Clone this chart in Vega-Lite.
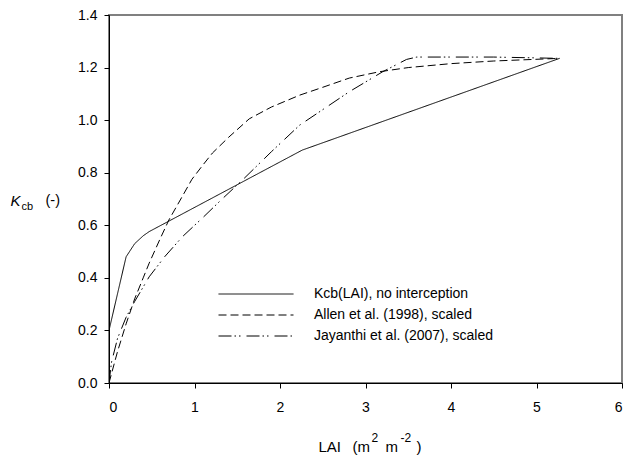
{
  "$schema": "https://vega.github.io/schema/vega-lite/v6.json",
  "width": 513,
  "height": 368,
  "autosize": {"type": "none"},
  "padding": {"left": 109, "top": 15, "right": 4, "bottom": 74},
  "background": "white",
  "config": {
    "view": {"stroke": "#808080", "strokeWidth": 2},
    "font": "Liberation Sans",
    "axis": {
      "domainColor": "black",
      "tickColor": "black",
      "tickSize": 5,
      "labelFont": "Liberation Sans",
      "labelFontSize": 14,
      "labelColor": "black",
      "titleFont": "Liberation Sans",
      "titleFontSize": 14,
      "titleFontWeight": "normal",
      "titleColor": "black",
      "titleAngle": 0,
      "titleAlign": "left",
      "titleBaseline": "alphabetic",
      "grid": false
    }
  },
  "data": {
    "values": [
      {"series": "Kcb(LAI), no interception", "lai": 0.0, "kcb": 0.2},
      {"series": "Kcb(LAI), no interception", "lai": 0.2, "kcb": 0.48},
      {"series": "Kcb(LAI), no interception", "lai": 0.3, "kcb": 0.53},
      {"series": "Kcb(LAI), no interception", "lai": 0.4, "kcb": 0.56},
      {"series": "Kcb(LAI), no interception", "lai": 0.47, "kcb": 0.576},
      {"series": "Kcb(LAI), no interception", "lai": 2.26, "kcb": 0.886},
      {"series": "Kcb(LAI), no interception", "lai": 5.27, "kcb": 1.235},

      {"series": "Allen et al. (1998), scaled", "lai": 0.0, "kcb": 0.0},
      {"series": "Allen et al. (1998), scaled", "lai": 0.1, "kcb": 0.12},
      {"series": "Allen et al. (1998), scaled", "lai": 0.2, "kcb": 0.225},
      {"series": "Allen et al. (1998), scaled", "lai": 0.3, "kcb": 0.32},
      {"series": "Allen et al. (1998), scaled", "lai": 0.4, "kcb": 0.40},
      {"series": "Allen et al. (1998), scaled", "lai": 0.47, "kcb": 0.456},
      {"series": "Allen et al. (1998), scaled", "lai": 0.6, "kcb": 0.55},
      {"series": "Allen et al. (1998), scaled", "lai": 0.7, "kcb": 0.62},
      {"series": "Allen et al. (1998), scaled", "lai": 0.84, "kcb": 0.70},
      {"series": "Allen et al. (1998), scaled", "lai": 0.97, "kcb": 0.775},
      {"series": "Allen et al. (1998), scaled", "lai": 1.1, "kcb": 0.83},
      {"series": "Allen et al. (1998), scaled", "lai": 1.21, "kcb": 0.875},
      {"series": "Allen et al. (1998), scaled", "lai": 1.4, "kcb": 0.935},
      {"series": "Allen et al. (1998), scaled", "lai": 1.64, "kcb": 1.005},
      {"series": "Allen et al. (1998), scaled", "lai": 1.9, "kcb": 1.05},
      {"series": "Allen et al. (1998), scaled", "lai": 2.23, "kcb": 1.095},
      {"series": "Allen et al. (1998), scaled", "lai": 2.5, "kcb": 1.125},
      {"series": "Allen et al. (1998), scaled", "lai": 2.81, "kcb": 1.16},
      {"series": "Allen et al. (1998), scaled", "lai": 3.16, "kcb": 1.184},
      {"series": "Allen et al. (1998), scaled", "lai": 3.5, "kcb": 1.2},
      {"series": "Allen et al. (1998), scaled", "lai": 4.0, "kcb": 1.215},
      {"series": "Allen et al. (1998), scaled", "lai": 4.5, "kcb": 1.225},
      {"series": "Allen et al. (1998), scaled", "lai": 5.27, "kcb": 1.235},

      {"series": "Jayanthi et al. (2007), scaled", "lai": 0.0, "kcb": 0.0},
      {"series": "Jayanthi et al. (2007), scaled", "lai": 0.03, "kcb": 0.08},
      {"series": "Jayanthi et al. (2007), scaled", "lai": 0.1, "kcb": 0.17},
      {"series": "Jayanthi et al. (2007), scaled", "lai": 0.2, "kcb": 0.25},
      {"series": "Jayanthi et al. (2007), scaled", "lai": 0.3, "kcb": 0.31},
      {"series": "Jayanthi et al. (2007), scaled", "lai": 0.47, "kcb": 0.404},
      {"series": "Jayanthi et al. (2007), scaled", "lai": 0.65, "kcb": 0.48},
      {"series": "Jayanthi et al. (2007), scaled", "lai": 0.86, "kcb": 0.557},
      {"series": "Jayanthi et al. (2007), scaled", "lai": 1.1, "kcb": 0.63},
      {"series": "Jayanthi et al. (2007), scaled", "lai": 1.31, "kcb": 0.696},
      {"series": "Jayanthi et al. (2007), scaled", "lai": 1.56, "kcb": 0.772},
      {"series": "Jayanthi et al. (2007), scaled", "lai": 1.9, "kcb": 0.88},
      {"series": "Jayanthi et al. (2007), scaled", "lai": 2.23, "kcb": 0.981},
      {"series": "Jayanthi et al. (2007), scaled", "lai": 2.5, "kcb": 1.04},
      {"series": "Jayanthi et al. (2007), scaled", "lai": 2.81, "kcb": 1.108},
      {"series": "Jayanthi et al. (2007), scaled", "lai": 3.2, "kcb": 1.184},
      {"series": "Jayanthi et al. (2007), scaled", "lai": 3.48, "kcb": 1.231},
      {"series": "Jayanthi et al. (2007), scaled", "lai": 3.6, "kcb": 1.24},
      {"series": "Jayanthi et al. (2007), scaled", "lai": 4.5, "kcb": 1.24},
      {"series": "Jayanthi et al. (2007), scaled", "lai": 5.27, "kcb": 1.235}
    ]
  },
  "layer": [
    {
      "mark": {"type": "line", "color": "black", "strokeWidth": 1, "clip": true},
      "encoding": {
        "x": {
          "field": "lai", "type": "quantitative",
          "scale": {"domain": [0, 6], "nice": false, "zero": false},
          "axis": {
            "orient": "bottom",
            "values": [0, 1, 2, 3, 4, 5, 6],
            "format": "d",
            "labelPadding": 12,
            "title": "LAI",
            "titleFontSize": 15,
            "titleX": 209,
            "titleY": 68
          }
        },
        "y": {
          "field": "kcb", "type": "quantitative",
          "scale": {"domain": [0, 1.4], "nice": false, "zero": false},
          "axis": {
            "orient": "left",
            "values": [0, 0.2, 0.4, 0.6, 0.8, 1.0, 1.2, 1.4],
            "format": ".1f",
            "labelPadding": 7,
            "title": "K",
            "titleFontStyle": "italic",
            "titleFontSize": 15,
            "titleX": -99,
            "titleY": 190
          }
        },
        "strokeDash": {
          "field": "series", "type": "nominal",
          "scale": {
            "domain": ["Kcb(LAI), no interception", "Allen et al. (1998), scaled", "Jayanthi et al. (2007), scaled"],
            "range": [[1, 0], [8, 4], [13, 3, 1.5, 3, 1.5, 6]]
          },
          "legend": {
            "orient": "none",
            "legendX": 109,
            "legendY": 269,
            "title": null,
            "symbolType": "stroke",
            "symbolSize": 5625,
            "symbolStrokeWidth": 1,
            "symbolStrokeColor": "black",
            "symbolOffset": 0,
            "clipHeight": 20,
            "rowPadding": 1,
            "labelOffset": 20,
            "labelFont": "Liberation Sans",
            "labelFontSize": 14,
            "labelColor": "black",
            "labelLimit": 400,
            "padding": 0
          }
        },
        "order": {"field": "lai", "type": "quantitative"}
      }
    },
    {
      "mark": {"type": "line", "opacity": 0},
      "encoding": {
        "x": {
          "field": "lai", "type": "quantitative",
          "scale": {"domain": [0, 6], "nice": false, "zero": false},
          "axis": {"orient": "bottom", "domain": false, "ticks": false, "labels": false,
                   "title": "(m", "titleFontSize": 15, "titleX": 243, "titleY": 68}
        },
        "y": {
          "field": "kcb", "type": "quantitative",
          "scale": {"domain": [0, 1.4], "nice": false, "zero": false},
          "axis": {"orient": "left", "domain": false, "ticks": false, "labels": false,
                   "title": "cb", "titleFontSize": 11, "titleX": -88, "titleY": 194}
        },
        "detail": {"field": "series"}
      }
    },
    {
      "mark": {"type": "line", "opacity": 0},
      "encoding": {
        "x": {
          "field": "lai", "type": "quantitative",
          "scale": {"domain": [0, 6], "nice": false, "zero": false},
          "axis": {"orient": "bottom", "domain": false, "ticks": false, "labels": false,
                   "title": "2", "titleFontSize": 12, "titleX": 262, "titleY": 58.5}
        },
        "y": {
          "field": "kcb", "type": "quantitative",
          "scale": {"domain": [0, 1.4], "nice": false, "zero": false},
          "axis": {"orient": "left", "domain": false, "ticks": false, "labels": false,
                   "title": "(-)", "titleFontSize": 14.5, "titleX": -64, "titleY": 189}
        },
        "detail": {"field": "series"}
      }
    },
    {
      "mark": {"type": "line", "opacity": 0},
      "encoding": {
        "x": {
          "field": "lai", "type": "quantitative",
          "scale": {"domain": [0, 6], "nice": false, "zero": false},
          "axis": {"orient": "bottom", "domain": false, "ticks": false, "labels": false,
                   "title": "m", "titleFontSize": 15, "titleX": 276, "titleY": 68}
        },
        "y": {"field": "kcb", "type": "quantitative", "scale": {"domain": [0, 1.4], "nice": false, "zero": false}, "axis": null},
        "detail": {"field": "series"}
      }
    },
    {
      "mark": {"type": "line", "opacity": 0},
      "encoding": {
        "x": {
          "field": "lai", "type": "quantitative",
          "scale": {"domain": [0, 6], "nice": false, "zero": false},
          "axis": {"orient": "bottom", "domain": false, "ticks": false, "labels": false,
                   "title": "-2", "titleFontSize": 12, "titleX": 291, "titleY": 58.5}
        },
        "y": {"field": "kcb", "type": "quantitative", "scale": {"domain": [0, 1.4], "nice": false, "zero": false}, "axis": null},
        "detail": {"field": "series"}
      }
    },
    {
      "mark": {"type": "line", "opacity": 0},
      "encoding": {
        "x": {
          "field": "lai", "type": "quantitative",
          "scale": {"domain": [0, 6], "nice": false, "zero": false},
          "axis": {"orient": "bottom", "domain": false, "ticks": false, "labels": false,
                   "title": ")", "titleFontSize": 15, "titleX": 307, "titleY": 68}
        },
        "y": {"field": "kcb", "type": "quantitative", "scale": {"domain": [0, 1.4], "nice": false, "zero": false}, "axis": null},
        "detail": {"field": "series"}
      }
    }
  ],
  "resolve": {
    "scale": {"x": "independent", "y": "independent"},
    "axis": {"x": "independent", "y": "independent"}
  }
}
